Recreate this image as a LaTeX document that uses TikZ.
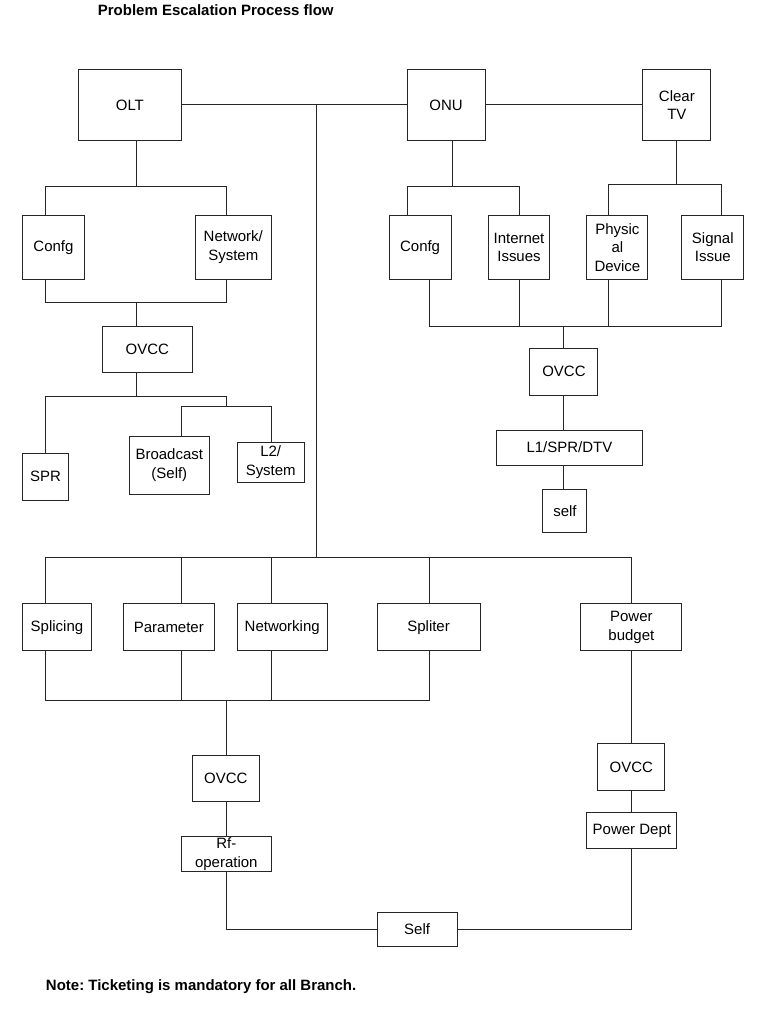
\documentclass[tikz,border=0pt]{standalone}
\usepackage{fontspec}
\setmainfont{Liberation Sans}
\frenchspacing
\begin{document}
\begin{tikzpicture}[x=1pt,y=-1pt,
  line width=1pt,
  every path/.style={draw=black!85},
  box/.style={draw=black!85, fill=white, inner sep=0pt, align=center,
    font=\fontsize{15}{18.5}\selectfont},
  ttl/.style={inner sep=0pt, font=\fontsize{15}{18}\selectfont\bfseries}]
\useasboundingbox (0,0) rectangle (768,1024);
\fill[white] (0,0) rectangle (768,1024);
% title and note
\node[ttl, anchor=base west] (title) at (97,15) {Problem Escalation Process flow};
\node[ttl, anchor=base west] (note) at (45,991) {Note: Ticketing is mandatory for all Branch.};
% top boxes
\node[box, minimum width=103pt, minimum height=71pt] (olt) at (129.5,104.5) {OLT};
\node[box, minimum width=78pt, minimum height=71pt] (onu) at (446,104.5) {ONU};
\node[box, minimum width=68pt, minimum height=71pt] (ctv) at (677,104.5) {Clear\\TV};
% OLT branch
\node[box, minimum width=62pt, minimum height=64pt] (confg1) at (53,247) {Confg};
\node[box, minimum width=76pt, minimum height=64pt] (netsys) at (233,247) {Network/\\System};
\node[box, minimum width=90pt, minimum height=46pt] (ovcc1) at (147,349) {OVCC};
\node[box, minimum width=46pt, minimum height=47pt] (spr) at (45,476.5) {SPR};
\node[box, minimum width=80pt, minimum height=58pt] (bcast) at (169,465) {Broadcast\\(Self)};
\node[box, minimum width=67pt, minimum height=40pt] (l2) at (270.5,462) {L2/\\System};
% ONU / Clear TV branch
\node[box, minimum width=62pt, minimum height=64pt] (confg2) at (420,247) {Confg};
\node[box, minimum width=62pt, minimum height=64pt] (inet) at (519,247) {Internet\\Issues};
\node[box, minimum width=61pt, minimum height=64pt] (phys) at (617.5,247) {Physic\\al\\Device};
\node[box, minimum width=62pt, minimum height=64pt] (sig) at (713,247) {Signal\\Issue};
\node[box, minimum width=68pt, minimum height=47pt] (ovcc2) at (564,371.5) {OVCC};
\node[box, minimum width=147pt, minimum height=35pt] (l1) at (569.5,447.5) {L1/SPR/DTV};
\node[box, minimum width=44pt, minimum height=44pt] (self1) at (565,511) {self};
% bottom branch
\node[box, minimum width=69pt, minimum height=47pt] (splicing) at (56.5,627.5) {Splicing};
\node[box, minimum width=91pt, minimum height=47pt] (param) at (168.5,627.5) {Parameter};
\node[box, minimum width=90pt, minimum height=47pt] (netw) at (282,627.5) {Networking};
\node[box, minimum width=103pt, minimum height=47pt] (spliter) at (428.5,627.5) {Spliter};
\node[box, minimum width=101pt, minimum height=47pt] (pbudget) at (631.5,627.5) {Power\\budget};
\node[box, minimum width=67pt, minimum height=46pt] (ovcc3) at (225.5,779) {OVCC};
\node[box, minimum width=90pt, minimum height=35pt] (rf) at (226,854.5) {Rf-\\operation};
\node[box, minimum width=80pt, minimum height=34pt] (self2) at (417,930) {Self};
\node[box, minimum width=67pt, minimum height=47pt] (ovcc4) at (631.5,767.5) {OVCC};
\node[box, minimum width=90pt, minimum height=36pt] (pdept) at (632,831) {Power Dept};
% junction coordinates
\coordinate (t0) at (316,104.5);
\coordinate (t1) at (316,558);
\coordinate (a1) at (136,186); \coordinate (a1l) at (45,186); \coordinate (a1r) at (226,186);
\coordinate (a2) at (136,302); \coordinate (a2l) at (45,302); \coordinate (a2r) at (226,302);
\coordinate (a3) at (136,396); \coordinate (a3l) at (45,396); \coordinate (a3r) at (226,396);
\coordinate (a4l) at (181,406); \coordinate (a4r) at (271,406);
\coordinate (b1) at (452,186); \coordinate (b1l) at (407,186); \coordinate (b1r) at (519,186);
\coordinate (c1) at (677,184); \coordinate (c1l) at (609,184); \coordinate (c1r) at (722,184);
\coordinate (d1) at (564,326); \coordinate (d1l) at (429,326); \coordinate (d1r) at (722,326);
\coordinate (d1a) at (519,326); \coordinate (d1b) at (609,326);
\coordinate (e1l) at (45,558); \coordinate (e1r) at (632,558);
\coordinate (e2) at (181,558); \coordinate (e3) at (271,558); \coordinate (e4) at (429,558);
\coordinate (f0) at (226,701); \coordinate (f1l) at (45,701); \coordinate (f1r) at (429,701);
\coordinate (f2) at (181,701); \coordinate (f3) at (271,701);
% connectors
\draw (olt.east) -- (onu.west);
\draw (onu.east) -- (ctv.west);
\draw (t0) -- (t1);
% OLT tree
\draw (olt.south -| a1) -- (a1);
\draw (confg1.north -| a1l) -- (a1l) -- (a1r) -- (netsys.north -| a1r);
\draw (confg1.south -| a2l) -- (a2l) -- (a2r) -- (netsys.south -| a2r);
\draw (a2) -- (ovcc1.north -| a2);
\draw (ovcc1.south -| a3) -- (a3);
\draw (spr.north -| a3l) -- (a3l) -- (a3r) -- (a3r |- a4r);
\draw (bcast.north -| a4l) -- (a4l) -- (a4r) -- (l2.north -| a4r);
% ONU / Clear TV tree
\draw (onu.south -| b1) -- (b1);
\draw (confg2.north -| b1l) -- (b1l) -- (b1r) -- (inet.north -| b1r);
\draw (ctv.south -| c1) -- (c1);
\draw (phys.north -| c1l) -- (c1l) -- (c1r) -- (sig.north -| c1r);
\draw (confg2.south -| d1l) -- (d1l) -- (d1r) -- (sig.south -| d1r);
\draw (inet.south -| d1a) -- (d1a);
\draw (phys.south -| d1b) -- (d1b);
\draw (d1) -- (ovcc2.north -| d1);
\draw (ovcc2.south -| d1) -- (l1.north -| d1);
\draw (l1.south -| d1) -- (self1.north -| d1);
% bottom tree
\draw (e1l) -- (e1r);
\draw (e1l) -- (splicing.north -| e1l);
\draw (e2) -- (param.north -| e2);
\draw (e3) -- (netw.north -| e3);
\draw (e4) -- (spliter.north -| e4);
\draw (e1r) -- (pbudget.north -| e1r);
\draw (splicing.south -| f1l) -- (f1l) -- (f1r) -- (spliter.south -| f1r);
\draw (param.south -| f2) -- (f2);
\draw (netw.south -| f3) -- (f3);
\draw (f0) -- (ovcc3.north -| f0);
\draw (ovcc3.south -| f0) -- (rf.north -| f0);
\draw (rf.south -| f0) |- (self2.west);
\draw (self2.east) -| (pdept.south -| e1r);
\draw (pbudget.south -| e1r) -- (ovcc4.north -| e1r);
\draw (ovcc4.south -| e1r) -- (pdept.north -| e1r);
\end{tikzpicture}
\end{document}
